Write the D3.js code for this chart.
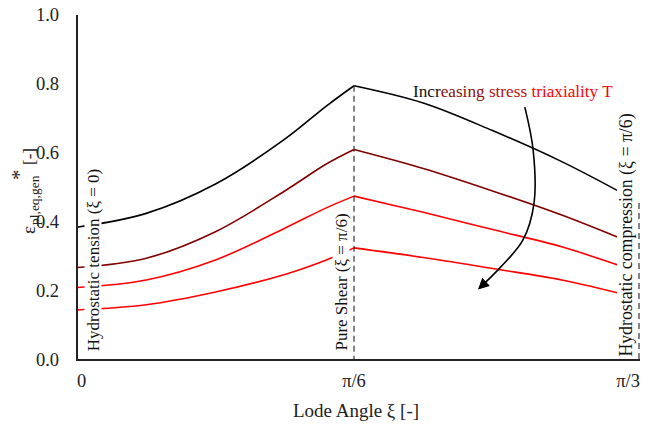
<!DOCTYPE html>
<html>
<head>
<meta charset="utf-8">
<script src="https://cdn.jsdelivr.net/npm/d3@7"></script>
<style>
  body { margin: 0; background: #fff; }
  text { font-family: "Liberation Serif", "Times New Roman", serif; }
</style>
</head>
<body>
<div id="chart"></div>
<script>
// lode angle positions (degrees, pi/3 = 60)
var xiLeft = [0, 7.5, 15, 22.5, 27, 30];
var xiRight = [30, 37.5, 45, 52.5, 60];

// curves
var blackLeft = [0.385, 0.425, 0.51, 0.64, 0.736, 0.795];
var blackRight = [0.795, 0.745, 0.665, 0.575, 0.47];
var darkLeft = [0.268, 0.295, 0.372, 0.49, 0.568, 0.61];
var darkRight = [0.61, 0.555, 0.49, 0.42, 0.34];
var redLeft = [0.21, 0.232, 0.29, 0.382, 0.441, 0.475];
var redRight = [0.475, 0.428, 0.378, 0.328, 0.262];
var lowLeft = [0.145, 0.16, 0.197, 0.248, 0.29, 0.325];
var lowRight = [0.325, 0.297, 0.265, 0.232, 0.185];

var yTicks = [0, 0.2, 0.4, 0.6, 0.8, 1.0];
var xTickVals = [0, 30, 60];
var xTickLabels = ["0", "\u03c0/6", "\u03c0/3"];

// arrow path (deg, value)
var arrowPts = [[48.5, 0.733], [49.4, 0.609], [49.5, 0.455], [48.3, 0.348], [45.8, 0.267], [43.6, 0.209]];

var series = [
  {left: blackLeft, right: blackRight, color: "#000000"},
  {left: darkLeft, right: darkRight, color: "#800000"},
  {left: redLeft, right: redRight, color: "#ff0000"},
  {left: lowLeft, right: lowRight, color: "#ff0000"}
];

var width = 651, height = 429;
var plotLeft = 77, plotRight = 640, plotTop = 15, plotBottom = 360;

var svg = d3.select("#chart").append("svg")
    .attr("width", width)
    .attr("height", height);

var x = d3.scaleLinear().domain([0, 60]).range([plotLeft, 631]);
var y = d3.scaleLinear().domain([0, 1]).range([plotBottom, plotTop]);

var line = d3.line()
    .x(function(d) { return x(d[0]); })
    .y(function(d) { return y(d[1]); })
    .curve(d3.curveCatmullRom.alpha(0.5));

// curves
series.forEach(function(s) {
  [[xiLeft, s.left], [xiRight, s.right]].forEach(function(part) {
    var pts = part[0].map(function(v, i) { return [v, part[1][i]]; });
    svg.append("path")
      .attr("d", line(pts))
      .attr("fill", "none")
      .attr("stroke", s.color)
      .attr("stroke-width", 1.6);
  });
});

// dashed markers
svg.append("line")
  .attr("x1", x(30)).attr("x2", x(30))
  .attr("y1", y(blackLeft[blackLeft.length - 1])).attr("y2", plotBottom)
  .attr("stroke", "#222").attr("stroke-width", 1.1)
  .attr("stroke-dasharray", "6,4");
svg.append("line")
  .attr("x1", plotRight - 1).attr("x2", plotRight - 1)
  .attr("y1", 203).attr("y2", plotBottom)
  .attr("stroke", "#222").attr("stroke-width", 1.1)
  .attr("stroke-dasharray", "6,4");

// rotated text boxes with white background
function vtext(cx, cy, str, fs) {
  var g = svg.append("g").attr("transform", "translate(" + cx + "," + cy + ") rotate(-90)");
  var t = g.append("text")
    .attr("text-anchor", "middle")
    .attr("dominant-baseline", "central")
    .attr("font-size", fs)
    .attr("fill", "#111")
    .text(str);
  var b = t.node().getBBox();
  g.insert("rect", "text")
    .attr("x", b.x - 2).attr("y", b.y + 1)
    .attr("width", b.width + 4).attr("height", b.height - 2)
    .attr("fill", "#fff");
}
vtext(93, 260, "Hydrostatic tension (\u03be = 0)", 17);
vtext(341, 282, "Pure Shear (\u03be = \u03c0/6)", 17);
vtext(626, 235, "Hydrostatic compression (\u03be = \u03c0/6)", 17.8);

// axes
svg.append("line")
  .attr("x1", plotLeft).attr("x2", plotLeft)
  .attr("y1", plotTop).attr("y2", plotBottom)
  .attr("stroke", "#222").attr("stroke-width", 2);
svg.append("line")
  .attr("x1", plotLeft - 1).attr("x2", plotRight)
  .attr("y1", plotBottom).attr("y2", plotBottom)
  .attr("stroke", "#222").attr("stroke-width", 2);

svg.selectAll(".ytick").data(yTicks).enter().append("text")
  .attr("class", "ytick")
  .attr("x", 59)
  .attr("y", function(d) { return y(d); })
  .attr("dy", "0.35em")
  .attr("text-anchor", "end")
  .attr("font-size", 18.5)
  .attr("fill", "#222")
  .text(d3.format(".1f"));

svg.selectAll(".xtick").data(xTickVals).enter().append("text")
  .attr("class", "xtick")
  .attr("x", function(d, i) { return i == 2 ? plotRight : x(d); })
  .attr("y", 387)
  .attr("text-anchor", function(d, i) { return ["start", "middle", "end"][i]; })
  .attr("font-size", 18.5)
  .attr("fill", "#222")
  .text(function(d, i) { return xTickLabels[i]; });

svg.append("text")
  .attr("x", x(30) + 2).attr("y", 417)
  .attr("text-anchor", "middle")
  .attr("font-size", 19)
  .attr("fill", "#222")
  .text("Lode Angle \u03be [-]");

// y title
var yt = svg.append("g").attr("transform", "translate(35,234) rotate(-90)");
var ytt = yt.append("text").attr("font-size", 19).attr("fill", "#222");
ytt.append("tspan").attr("x", 0).attr("y", 0).text("\u03b5");
ytt.append("tspan").attr("x", 9).attr("y", 4).attr("font-size", 13.5).text("pl,eq,gen");
ytt.append("tspan").attr("x", 54).attr("y", -9).attr("font-size", 21).text("*");
ytt.append("tspan").attr("x", 69).attr("y", 0).attr("font-size", 17).text("[-]");

// annotation
var ann = svg.append("text").attr("x", 413).attr("y", 97).attr("font-size", 17.2);
ann.append("tspan").attr("fill", "#111").text("Incr");
ann.append("tspan").attr("fill", "#8b1010").text("easing");
ann.append("tspan").attr("fill", "#b81010").text(" stress");
ann.append("tspan").attr("fill", "#ff0000").text(" triaxiality T");

svg.append("defs").append("marker")
  .attr("id", "ah")
  .attr("viewBox", "0 0 10 10")
  .attr("refX", 8).attr("refY", 5)
  .attr("markerWidth", 7).attr("markerHeight", 7)
  .attr("orient", "auto")
  .append("path").attr("d", "M0,0 L10,5 L0,10 Z").attr("fill", "#000");

svg.append("path")
  .attr("d", d3.line()
    .x(function(d) { return x(d[0]); })
    .y(function(d) { return y(d[1]); })
    .curve(d3.curveCatmullRom)(arrowPts))
  .attr("fill", "none")
  .attr("stroke", "#000")
  .attr("stroke-width", 1.6)
  .attr("marker-end", "url(#ah)");
</script>
</body>
</html>
